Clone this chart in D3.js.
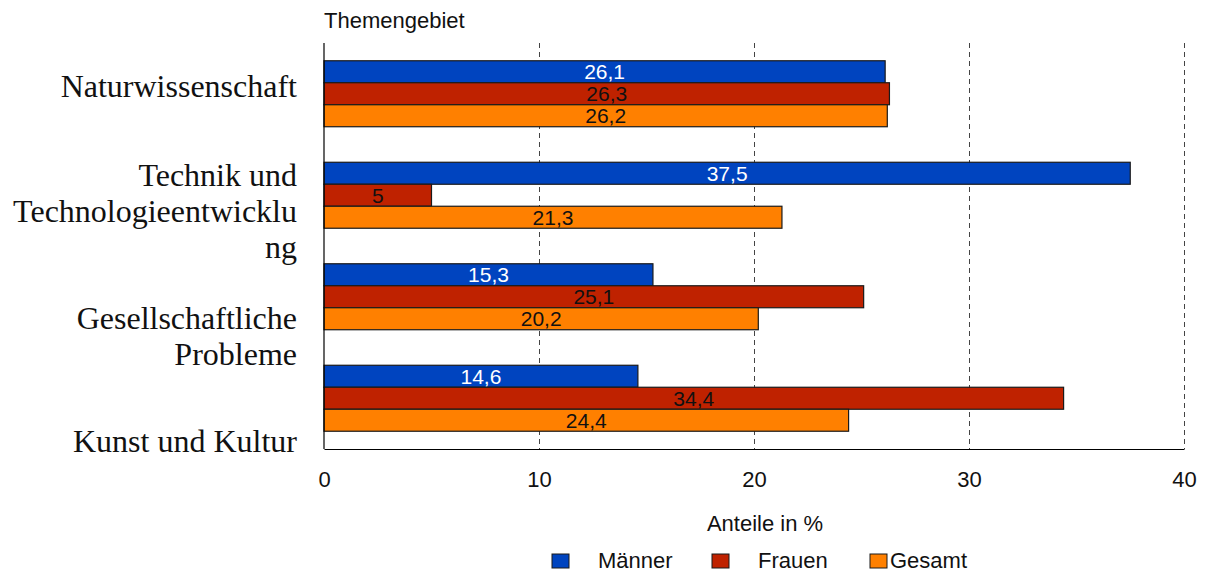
<!DOCTYPE html>
<html><head><meta charset="utf-8">
<script src="https://cdn.jsdelivr.net/npm/d3@7"></script>
<style>body{margin:0;background:#fff}svg{display:block}</style>
</head><body>
<svg id="c" width="1207" height="573"></svg>
<script>
const categories = ["Naturwissenschaft", "Technik und Technologieentwicklung", "Gesellschaftliche Probleme", "Kunst und Kultur"];
const categoryLines = [["Naturwissenschaft"], ["Technik und", "Technologieentwicklu", "ng"], ["Gesellschaftliche", "Probleme"], ["Kunst und Kultur"]];
const seriesNames = ["Männer", "Frauen", "Gesamt"];
const maenner = [26.1, 37.5, 15.3, 14.6];
const frauen = [26.3, 5, 25.1, 34.4];
const gesamt = [26.2, 21.3, 20.2, 24.4];
const xTicks = [0, 10, 20, 30, 40];
const xTitle = "Anteile in %";
const yTitle = "Themengebiet";

const colors = ["#0044BF", "#BF2200", "#FF8000"];
const labelColors = ["#ffffff", "#111111", "#111111"];
const labelFirstBaselineDy = [3, -9, 32, 54];

const svg = d3.select("#c");
const L = 324, R = 1184, T = 43, B = 449;
const x = d3.scaleLinear().domain([0, 40]).range([L, R]);
const y = d3.scaleBand().domain(categories).range([T, B]).paddingInner(0.35).paddingOuter(0.175);
const ys = d3.scaleBand().domain(seriesNames).range([0, y.bandwidth()]);
const sans = "Liberation Sans, Arial, sans-serif";
const serif = "Liberation Serif, Times New Roman, serif";
const fs = 22;

// gridlines
svg.append("g").selectAll("line").data(xTicks.filter(d => d > 0)).join("line")
  .attr("x1", d => x(d)).attr("x2", d => x(d)).attr("y1", T).attr("y2", B)
  .attr("stroke", "#444").attr("stroke-width", 1).attr("stroke-dasharray", "5,4")
  .attr("shape-rendering", "crispEdges");

// bars
const series = [maenner, frauen, gesamt];
series.forEach((vals, si) => {
  const g = svg.append("g");
  g.selectAll("rect").data(categories).join("rect")
    .attr("x", x(0))
    .attr("y", c => y(c) + ys(seriesNames[si]))
    .attr("width", (c, i) => x(vals[i]) - x(0))
    .attr("height", ys.bandwidth())
    .attr("fill", colors[si]).attr("stroke", "#1a1a1a").attr("stroke-width", 1.2);
  g.selectAll("text").data(categories).join("text")
    .attr("x", (c, i) => (x(0) + x(vals[i])) / 2)
    .attr("y", c => y(c) + ys(seriesNames[si]) + ys.bandwidth() / 2 + 7.5)
    .attr("text-anchor", "middle").attr("font-family", sans).attr("font-size", 21)
    .attr("fill", labelColors[si])
    .text((c, i) => String(vals[i]).replace(".", ","));
});

// axes lines
const xAxis = d3.axisBottom(x).tickValues(xTicks).tickSize(0).tickPadding(22).tickFormat(d3.format("d"));
const xg = svg.append("g").attr("transform", `translate(0,${B})`).call(xAxis);
xg.select(".domain").attr("stroke", "#000").attr("stroke-width", 1.2);
xg.selectAll("text").attr("font-family", sans).attr("font-size", fs).attr("fill", "#111");
svg.append("line").attr("x1", L).attr("x2", L).attr("y1", T).attr("y2", B).attr("stroke", "#000").attr("stroke-width", 1.2);

// category labels
categories.forEach((c, i) => {
  const t = svg.append("text").attr("font-family", serif).attr("font-size", 32).attr("fill", "#111")
    .attr("text-anchor", "end");
  categoryLines[i].forEach((ln, k) => {
    t.append("tspan").attr("x", 297)
      .attr("y", y(c) + y.bandwidth() / 2 + labelFirstBaselineDy[i] + k * 36).text(ln);
  });
});

// titles
svg.append("text").attr("x", L).attr("y", 28).attr("font-family", sans).attr("font-size", fs).attr("fill", "#111").text(yTitle);
svg.append("text").attr("x", 765).attr("y", 531).attr("text-anchor", "middle").attr("font-family", sans).attr("font-size", fs).attr("fill", "#111").text(xTitle);

// legend
const legX = [552, 712, 870], legTX = [598, 758, 890];
seriesNames.forEach((n, i) => {
  svg.append("rect").attr("x", legX[i]).attr("y", 554).attr("width", 17).attr("height", 14)
    .attr("fill", colors[i]).attr("stroke", "#1a1a1a").attr("stroke-width", 1);
  svg.append("text").attr("x", legTX[i]).attr("y", 568).attr("font-family", sans).attr("font-size", fs).attr("fill", "#111").text(n);
});
</script>
</body></html>
